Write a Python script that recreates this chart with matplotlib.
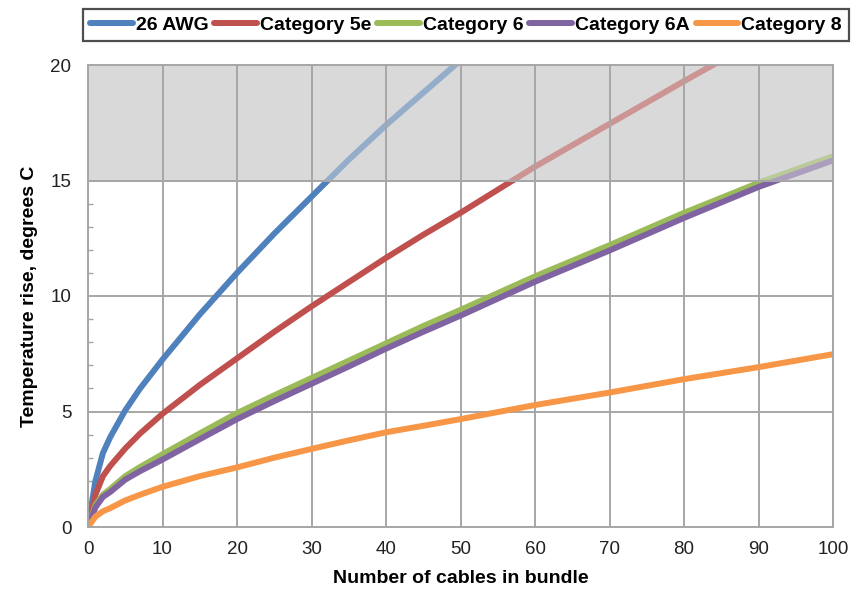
import numpy as np
import matplotlib
matplotlib.use("Agg")
import matplotlib.pyplot as plt
from matplotlib.lines import Line2D

plt.rcParams['font.family'] = ['Liberation Sans', 'DejaVu Sans']

# Number of cables in the bundle
cables = [0, 1, 2, 3, 5, 7, 10, 15, 20, 25, 30, 35, 40, 45, 50, 60, 70, 80, 90, 100]

# Temperature rise (degrees C) for each cable type
awg26 = [0, 2.0, 3.2, 3.9, 5.05, 6.0, 7.25, 9.2, 11.0, 12.7, 14.3, 15.9, 17.4, 18.8, 20.2,
         np.nan, np.nan, np.nan, np.nan, np.nan]
cat5e = [0, 1.4, 2.2, 2.65, 3.4, 4.05, 4.9, 6.15, 7.3, 8.45, 9.55, 10.6, 11.65, 12.65, 13.6,
         15.6, 17.45, 19.3, 21.1, np.nan]
cat6 = [0, 0.95, 1.4, 1.65, 2.2, 2.6, 3.15, 4.05, 4.93, 5.7, 6.45, 7.2, 7.95, 8.7, 9.4,
        10.85, 12.2, 13.6, 14.9, 16.05]
cat6a = [0, 0.85, 1.3, 1.52, 2.05, 2.42, 2.92, 3.8, 4.67, 5.45, 6.2, 6.95, 7.72, 8.45, 9.15,
         10.62, 11.97, 13.38, 14.72, 15.87]
cat8 = [0, 0.45, 0.68, 0.82, 1.15, 1.4, 1.74, 2.2, 2.58, 3.0, 3.38, 3.75, 4.1, 4.38, 4.67,
        5.28, 5.82, 6.4, 6.92, 7.48]

series_names = ["26 AWG", "Category 5e", "Category 6", "Category 6A", "Category 8"]
series_values = [awg26, cat5e, cat6, cat6a, cat8]
series_colors = ["#4F81BD", "#C0504D", "#9BBB59", "#8064A2", "#F79646"]

x_ticks = [0, 10, 20, 30, 40, 50, 60, 70, 80, 90, 100]
y_ticks = [0, 5, 10, 15, 20]
limit_band = (15, 20)

grid_col = "#a6a6a6"
band_col = "#d9d9d9"

fig = plt.figure(figsize=(8.65, 5.9), dpi=100)
ax = fig.add_axes([88 / 865, 63 / 590, 745 / 865, 462 / 590])

ax.set_xlim(0, 100)
ax.set_ylim(0, 20)

# shaded band above the allowed temperature rise
ax.axhspan(*limit_band, color=band_col, zorder=0.6, lw=0)

for vals, col in zip(series_values, series_colors):
    ax.plot(cables, vals, color=col, lw=4.3, solid_capstyle='round',
            solid_joinstyle='round', zorder=2)

# translucent wash so curves fade inside the band
ax.axhspan(*limit_band, color=band_col, alpha=0.5, zorder=2.5, lw=0)

ax.set_xticks(x_ticks)
ax.set_yticks(y_ticks)
ax.set_yticks(np.arange(0, 21, 1), minor=True)
ax.grid(True, which='major', color=grid_col, lw=1.4, zorder=1)
ax.set_axisbelow(True)
ax.vlines(x_ticks, limit_band[0], limit_band[1], color=grid_col, lw=1.4, zorder=2.6)
ax.hlines([limit_band[0]], 0, 100, color=grid_col, lw=1.4, zorder=2.6)

for s in ax.spines.values():
    s.set_color(grid_col)
    s.set_linewidth(1.4)
    s.set_zorder(3)

ax.tick_params(axis='both', which='major', length=0, labelsize=13.5, pad=12,
               labelcolor="#222222")
ax.tick_params(axis='x', which='major', pad=10)
ax.tick_params(axis='y', which='minor', direction='in', length=3.5, width=1,
               color=grid_col)
ax.tick_params(axis='x', which='minor', length=0)

ax.set_xlabel("Number of cables in bundle", fontsize=14, fontweight='bold',
              labelpad=9)
ax.set_ylabel("Temperature rise, degrees C", fontsize=14, fontweight='bold',
              labelpad=9)

handles = [Line2D([0], [0], color=c, lw=4.3, solid_capstyle='round')
           for c in series_colors]
leg = fig.legend(handles, series_names, loc='center',
                 bbox_to_anchor=(466 / 865, 1 - 25 / 590), ncol=5,
                 frameon=True, fancybox=False, edgecolor='#222222',
                 handlelength=2.2, handletextpad=0.15, columnspacing=0.3,
                 borderpad=0.35, borderaxespad=0,
                 prop={'weight': 'bold', 'size': 14})
leg.get_frame().set_linewidth(1.6)

fig.savefig("out.png", dpi=100)
